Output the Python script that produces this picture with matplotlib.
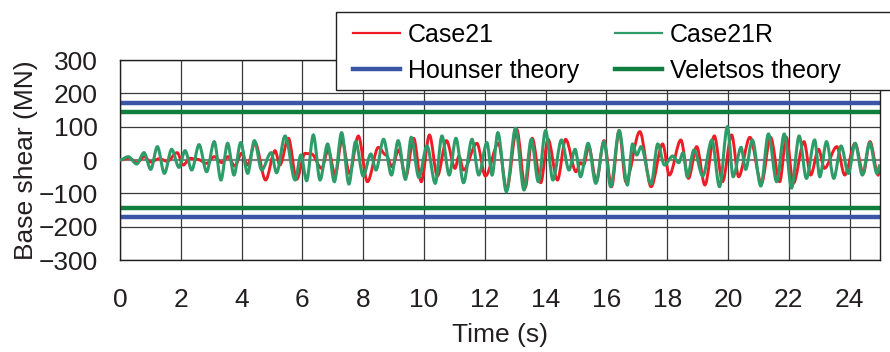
import matplotlib
matplotlib.use("Agg")
import matplotlib.pyplot as plt
from matplotlib.path import Path
from matplotlib.patches import PathPatch, Rectangle

plt.rcParams["font.family"] = ["Liberation Sans", "DejaVu Sans"]

# peaks and troughs (time s, base shear MN)
case21r_t = [0.0, 0.27, 0.55, 0.79, 1.01, 1.23, 1.46, 1.70, 1.94, 2.14, 2.36, 2.60, 2.85,
             3.10, 3.32, 3.54, 3.75, 3.97, 4.20, 4.42, 4.66, 4.97, 5.15, 5.43, 5.76, 5.95,
             6.14, 6.36, 6.58, 6.83, 7.05, 7.29, 7.53, 7.75, 8.00, 8.25, 8.42, 8.67, 8.93,
             9.15, 9.39, 9.58, 9.83, 10.10, 10.37, 10.59, 10.83, 11.05, 11.30, 11.58, 11.80,
             12.07, 12.24, 12.43, 12.71, 13.01, 13.29, 13.53, 13.76, 14.00, 14.24, 14.52,
             14.77, 14.97, 15.15, 15.40, 15.65, 15.92, 16.14, 16.42, 16.69, 16.86, 17.00,
             17.14, 17.47, 17.69, 17.91, 18.18, 18.38, 18.52, 18.66, 18.88, 19.17, 19.47,
             19.72, 19.98, 20.17, 20.43, 20.58, 20.80, 21.08, 21.33, 21.60, 21.85, 22.09,
             22.34, 22.58, 22.85, 23.02, 23.24, 23.48, 23.72, 23.96, 24.18, 24.42, 24.66,
             24.90, 25.0]
case21r_v = [0, 10, -12, 22, -28, 40, -40, 32, -22, 28, -30, 46, -35,
             55, -60, 50, -45, 52, -40, 58, -30, 22, -38, 72, -60, 15,
             -62, 75, -60, 48, -65, 82, -72, 55, -48, 18, -30, 62, -45,
             58, -58, 68, -52, 42, -70, 72, -45, 65, -68, 62, -45,
             52, -45, 82, -95, 95, -90, 62, -65, 88, -60, 60,
             -30, 32, -50, 50, -70, 55, -80, 88, -75, 48, 15,
             40, -72, 48, -15, 12, -8, 22, -50, 30, -48, 60,
             -80, 100, -50, 38, -28, 60, -78, 78, -65, 78, -84,
             72, -55, 60, -50, 55, -55, 42, -40, 50, -45, 52,
             -40, -15]

case21_t = [0.0, 0.30, 0.55, 0.80, 1.00, 1.30, 1.55, 1.88, 2.08, 2.30, 2.55, 2.85, 3.10,
            3.35, 3.55, 3.78, 4.00, 4.20, 4.44, 4.79, 5.10, 5.26, 5.54, 5.81, 6.09, 6.30,
            6.63, 6.85, 7.08, 7.30, 7.55, 7.84, 8.14, 8.50, 8.75, 8.95, 9.17, 9.40, 9.66,
            9.91, 10.18, 10.44, 10.74, 11.02, 11.15, 11.30, 11.74, 12.02, 12.45, 12.72,
            13.05, 13.33, 13.56, 13.84, 14.08, 14.39, 14.66, 15.00, 15.15, 15.25, 15.42,
            15.67, 15.92, 16.17, 16.42, 16.64, 17.10, 17.47, 17.85, 18.07, 18.45, 18.70,
            18.97, 19.24, 19.55, 19.82, 20.12, 20.35, 20.72, 21.10, 21.40, 21.70, 21.92,
            22.15, 22.50, 22.72, 22.98, 23.17, 23.58, 23.84, 24.18, 24.45, 24.67, 24.94,
            25.0]
case21_v = [0, 6, -8, 10, -6, 4, -4, 22, -15, 5, 2, -10, 10,
            -8, 10, -18, 20, -15, 52, -60, 28, -15, 65, -58, 20, 18,
            -25, 30, -45, 60, -40, 72, -65, 38, 15, -20, 30, -50, 65,
            -65, 75, -48, 58, -25, 12, -30, 50, -48, 50, -88,
            92, -82, 65, -68, 62, -60, 62, -35, -8, -15, 40,
            -65, 58, -80, 88, -65, 85, -80, 48, -45, 60, -55,
            40, -75, 72, -65, 75, -50, 68, -70, 68, -65, 68,
            -70, 55, -45, 32, -25, 40, -45, 50, -40, 55, -45,
            -25]

hounser = 170
veletsos = 144
xticks = list(range(0, 25, 2))
yticks = list(range(-300, 301, 100))


def wave_path(t, v):
    # smooth curve through the extrema, flat at each peak / trough
    verts = [(t[0], v[0])]
    codes = [Path.MOVETO]
    for i in range(len(t) - 1):
        d = (t[i + 1] - t[i]) / 3
        verts += [(t[i] + d, v[i]), (t[i + 1] - d, v[i + 1]), (t[i + 1], v[i + 1])]
        codes += [Path.CURVE4] * 3
    return Path(verts, codes)


fig = plt.figure(figsize=(8.9, 3.52), dpi=100)
ax = fig.add_axes([120 / 890, 1 - 260 / 352, 760 / 890, 200 / 352])

for y in yticks:
    ax.axhline(y, color="#808080" if y == 0 else "#3a3a3a",
               lw=1.6 if y == 0 else 0.9, zorder=1)
for x in xticks:
    ax.axvline(x, color="#3a3a3a", lw=0.9, zorder=1)

ax.axhline(hounser, color="#3b55a6", lw=3.2, zorder=2)
ax.axhline(-hounser, color="#3b55a6", lw=3.2, zorder=2)
ax.axhline(veletsos, color="#0f7e3e", lw=3.2, zorder=2)
ax.axhline(-veletsos, color="#0f7e3e", lw=3.2, zorder=2)

ax.add_patch(PathPatch(wave_path(case21_t, case21_v), fill=False,
                       edgecolor="#ee1c25", lw=2.1, zorder=3))
ax.add_patch(PathPatch(wave_path(case21r_t, case21r_v), fill=False,
                       edgecolor="#2e9c69", lw=2.2, zorder=4))

ax.set_xlim(0, 25)
ax.set_ylim(-300, 300)
ax.set_xticks(xticks)
ax.set_yticks(yticks)
ax.tick_params(length=0, labelsize=19, colors="#231f20")
ax.tick_params(axis="x", pad=20)
ax.tick_params(axis="y", pad=16)
for s in ax.spines.values():
    s.set_color("#231f20")
    s.set_linewidth(1.0)
ax.set_xlabel("Time (s)", fontsize=19, color="#231f20", labelpad=8)
ax.set_ylabel("Base shear (MN)", fontsize=19, color="#231f20", labelpad=0)

# legend box runs off the right edge of the figure
fig.patches.append(Rectangle((336 / 890, 1 - 90 / 352), 0.75, 78 / 352,
                             transform=fig.transFigure, facecolor="white",
                             edgecolor="#231f20", lw=1.0, zorder=2))

h1, = ax.plot([], [], color="#ee1c25", lw=1.6)
h2, = ax.plot([], [], color="#2e9c69", lw=1.6)
h3, = ax.plot([], [], color="#3b55a6", lw=3.2)
h4, = ax.plot([], [], color="#0f7e3e", lw=3.2)
fig.legend([h1, h3, h2, h4], ["Case21", "Hounser theory", "Case21R", "Veletsos theory"],
           ncol=2, loc="upper left", bbox_to_anchor=(345 / 890, 1 - 15 / 352),
           frameon=False, fontsize=18, handlelength=1.9, handletextpad=0.3,
           columnspacing=1.45, labelspacing=0.5, borderpad=0.3, borderaxespad=0)

fig.savefig("out.png", dpi=100)
